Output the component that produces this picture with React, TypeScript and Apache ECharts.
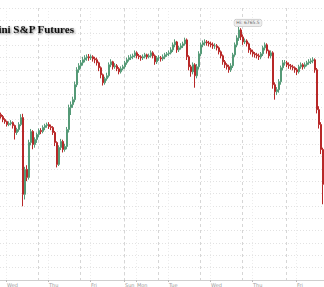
import React, { useEffect, useRef } from "react";
import * as echarts from "echarts";

const opens = [
  6655.5, 6653, 6649.25, 6646.75, 6643, 6644.25, 6645.5, 6641.75, 6633, 6636.75,
  6643, 6651.75, 6555.5, 6586.75, 6576.75, 6620.5, 6634.25, 6618, 6624.25, 6630.5,
  6635.5, 6634.25, 6639.25, 6641.75, 6643, 6640.5, 6639.25, 6633, 6620.5, 6593,
  6614.25, 6621.75, 6611.75, 6615.5, 6636.75, 6664.25, 6668, 6674.25, 6693, 6711.75,
  6716.75, 6720.5, 6724.25, 6726.75, 6728, 6726.75, 6728, 6725.5, 6724.25, 6720.5,
  6714.25, 6705.5, 6695.5, 6700.5, 6704.25, 6718, 6721.75, 6715.5, 6716.75, 6713,
  6709.25, 6713, 6715.5, 6720.5, 6724.25, 6726.75, 6728, 6729.25, 6733, 6729.25,
  6728, 6726.75, 6728, 6730.5, 6728, 6729.25, 6733, 6729.25, 6721.75, 6726.75,
  6726.75, 6725.5, 6728, 6730.5, 6731.75, 6733, 6736.75, 6743, 6746.75, 6736.75,
  6739.25, 6741.75, 6744.25, 6749.25, 6728, 6715.5, 6709.25, 6718, 6704.25, 6715.5,
  6731.75, 6743, 6745.5, 6746.75, 6745.5, 6744.25, 6743, 6741.75, 6741.75, 6739.25,
  6734.25, 6729.25, 6721.75, 6718, 6715.5, 6711.75, 6716.75, 6730.5, 6743, 6751.75,
  6761.75, 6753, 6746.75, 6748, 6744.25, 6736.75, 6734.25, 6731.75, 6730.5, 6729.25,
  6728, 6731.75, 6739.25, 6743, 6735.5, 6729.25, 6733, 6693, 6684.25, 6686.75,
  6696.75, 6714.25, 6720.5, 6720.5, 6718, 6716.75, 6715.5, 6714.25, 6711.75, 6709.25,
  6715.5, 6718, 6715.5, 6718, 6720.5, 6721.75, 6723, 6724.25, 6711.75, 6661.75,
  6643, 6611.75,
];

const closes = [
  6653, 6649.25, 6646.75, 6643, 6644.25, 6645.5, 6641.75, 6633, 6636.75, 6643,
  6651.75, 6555.5, 6586.75, 6576.75, 6620.5, 6634.25, 6618, 6624.25, 6630.5, 6635.5,
  6634.25, 6639.25, 6641.75, 6643, 6640.5, 6639.25, 6633, 6620.5, 6593, 6614.25,
  6621.75, 6611.75, 6615.5, 6636.75, 6664.25, 6668, 6674.25, 6693, 6711.75, 6716.75,
  6720.5, 6724.25, 6726.75, 6728, 6726.75, 6728, 6725.5, 6724.25, 6720.5, 6714.25,
  6705.5, 6695.5, 6700.5, 6704.25, 6718, 6721.75, 6715.5, 6716.75, 6713, 6709.25,
  6713, 6715.5, 6720.5, 6724.25, 6726.75, 6728, 6729.25, 6733, 6729.25, 6728,
  6726.75, 6728, 6730.5, 6728, 6729.25, 6733, 6729.25, 6721.75, 6726.75, 6726.75,
  6725.5, 6728, 6730.5, 6731.75, 6733, 6736.75, 6743, 6746.75, 6736.75, 6739.25,
  6741.75, 6744.25, 6749.25, 6728, 6715.5, 6709.25, 6718, 6704.25, 6715.5, 6731.75,
  6743, 6745.5, 6746.75, 6745.5, 6744.25, 6743, 6741.75, 6741.75, 6739.25, 6734.25,
  6729.25, 6721.75, 6718, 6715.5, 6711.75, 6716.75, 6730.5, 6743, 6751.75, 6761.75,
  6753, 6746.75, 6748, 6744.25, 6736.75, 6734.25, 6731.75, 6730.5, 6729.25, 6728,
  6731.75, 6739.25, 6743, 6735.5, 6729.25, 6733, 6693, 6684.25, 6686.75, 6696.75,
  6714.25, 6720.5, 6720.5, 6718, 6716.75, 6715.5, 6714.25, 6711.75, 6709.25, 6715.5,
  6718, 6715.5, 6718, 6720.5, 6721.75, 6723, 6724.25, 6711.75, 6661.75, 6643,
  6611.75, 6568,
];

const lows = [
  6650.5, 6646, 6644, 6640.5, 6641, 6642, 6638, 6624.25, 6630, 6634,
  6641, 6540.5, 6549, 6572, 6574, 6617, 6612, 6614, 6620, 6627,
  6631, 6632, 6636, 6639, 6637.5, 6636, 6630, 6616, 6589.25, 6591,
  6611, 6608, 6609, 6612, 6633, 6655, 6664, 6671, 6690, 6708,
  6713, 6717, 6721, 6723, 6723, 6724, 6722, 6720, 6717, 6710,
  6701, 6692, 6693, 6698, 6702, 6715, 6712, 6713, 6710, 6706,
  6707, 6711, 6713, 6718, 6722, 6724, 6725, 6727, 6726, 6725,
  6723, 6724, 6726, 6725, 6726, 6727, 6726, 6718, 6719, 6723,
  6722, 6723, 6725, 6728, 6729, 6731, 6734, 6740, 6733, 6734,
  6737, 6739, 6742, 6724, 6711, 6703, 6706, 6689.25, 6701, 6712,
  6729, 6740, 6742, 6742, 6741, 6740, 6738, 6738, 6736, 6731,
  6726, 6718, 6714, 6712, 6708, 6709, 6714, 6728, 6740, 6748,
  6749, 6743, 6744, 6741, 6733, 6731, 6728, 6727, 6726, 6724,
  6725, 6729, 6736, 6732, 6726, 6726, 6688, 6674.25, 6680, 6683,
  6693, 6711, 6717, 6715, 6713, 6712, 6711, 6708, 6705, 6707,
  6713, 6712, 6713, 6716, 6718, 6719, 6720, 6708, 6657, 6638,
  6606, 6543,
];

const highs = [
  6658, 6655, 6651, 6648, 6647, 6648.5, 6647, 6643, 6639, 6646,
  6656, 6656.5, 6590, 6592, 6624, 6637.5, 6636, 6627, 6633, 6638,
  6638.5, 6642, 6644, 6645.5, 6646, 6643, 6641, 6635, 6622, 6617,
  6625, 6624, 6619, 6640, 6668, 6672, 6678, 6697, 6715, 6720,
  6724, 6728, 6730, 6731, 6731.5, 6731, 6730, 6728, 6727, 6722,
  6716, 6707, 6703, 6708, 6721, 6725, 6723, 6720, 6719, 6715,
  6716, 6718, 6723, 6727, 6730, 6731, 6732, 6736, 6735, 6731.5,
  6730, 6731, 6733, 6732, 6732, 6736, 6735, 6731, 6729, 6730,
  6729, 6731, 6733, 6734, 6736, 6740, 6746, 6750, 6748, 6742,
  6745, 6747, 6752, 6751, 6730, 6718, 6721, 6720, 6719, 6735,
  6746, 6748.5, 6750, 6749, 6748, 6747, 6746, 6745, 6744, 6741,
  6736, 6731, 6724, 6720, 6718, 6720, 6733, 6746, 6755, 6765.5,
  6764, 6756, 6751, 6750, 6746, 6739, 6737, 6734, 6733, 6732,
  6734, 6742, 6746, 6745, 6737, 6736, 6735, 6696, 6690, 6700,
  6717, 6724, 6724, 6723, 6721, 6719, 6718, 6716, 6714, 6718,
  6721, 6720, 6721, 6723, 6725, 6726, 6727.5, 6726, 6714, 6666,
  6646, 6614,
];

const dayLabelIndex = [3, 24, 45, 62, 68, 84, 105, 126, 148];
const dayLabels = ["Wed", "Thu", "Fri", "Sun", "Mon", "Tue", "Wed", "Thu", "Fri"];
const sessionBreakIndex = [19, 40, 62, 79, 100, 121, 143];

const titleText = "Mini S&P Futures";

export default function App() {
  const ref = useRef<HTMLDivElement>(null);

  useEffect(() => {
    if (!ref.current) return;
    const chart = echarts.init(ref.current, null, { renderer: "svg" });
    const categories = closes.map((_, i) => String(i));
    const candles = closes.map((c, i) => [opens[i], c, lows[i], highs[i]]);
    const labelMap: Record<number, string> = {};
    dayLabelIndex.forEach((k, j) => (labelMap[k] = dayLabels[j]));
    const labelSet = new Set(dayLabelIndex);
    const breakSet = new Set(sessionBreakIndex);

    chart.setOption({
      animation: false,
      backgroundColor: "#ffffff",
      title: {
        text: titleText,
        left: -17,
        top: 18,
        textStyle: {
          fontFamily: "Liberation Serif",
          fontWeight: "bold",
          fontSize: 11,
          color: "#111",
          textShadowColor: "rgba(0,0,0,0.5)",
          textShadowBlur: 2,
          textShadowOffsetX: 1,
          textShadowOffsetY: 1,
        },
      },
      grid: { left: 0, right: 0, top: 8, bottom: 6, containLabel: false },
      xAxis: [
        {
          type: "category",
          data: categories,
          boundaryGap: true,
          axisLine: { show: true, lineStyle: { color: "#cfcfcf", width: 1 } },
          axisTick: {
            show: true,
            interval: (i: number) => labelSet.has(i),
            length: 2,
            lineStyle: { color: "#bbb" },
          },
          axisLabel: {
            show: true,
            interval: (i: number) => labelSet.has(i),
            formatter: (_v: string, i: number) => labelMap[i] || "",
            fontSize: 5,
            color: "#999",
            align: "left",
            margin: 2,
            fontFamily: "DejaVu Sans",
          },
          splitLine: {
            show: true,
            interval: (i: number) => labelSet.has(i),
            lineStyle: { color: "#ececec", type: [1, 2], width: 1 },
          },
        },
        {
          type: "category",
          data: categories,
          boundaryGap: true,
          position: "bottom",
          axisLine: { show: false },
          axisTick: { show: false },
          axisLabel: { show: false },
          splitLine: {
            show: true,
            interval: (i: number) => breakSet.has(i),
            lineStyle: { color: "#d6d6d6", type: [3, 3], width: 1 },
          },
        },
      ],
      yAxis: {
        type: "value",
        position: "right",
        min: 6448,
        max: 6789.25,
        interval: 15.5,
        axisLine: { show: false },
        axisTick: { show: false },
        axisLabel: { show: false },
        splitLine: { show: true, lineStyle: { color: "#e2e2e2", type: [1, 2], width: 1 } },
      },
      series: [
        {
          type: "candlestick",
          xAxisIndex: 0,
          data: candles,
          barWidth: "75%",
          itemStyle: {
            color: "#7fb99b",
            color0: "#c62f2f",
            borderColor: "#559a77",
            borderColor0: "#b82828",
            borderWidth: 1,
          },
          markPoint: {
            symbol: "circle",
            symbolSize: 1,
            itemStyle: { color: "rgba(0,0,0,0)" },
            data: [{ type: "max", valueDim: "highest" }],
            label: {
              show: true,
              position: "top",
              distance: 0,
              offset: [9, 0],
              formatter: (p: any) => "Hi: " + p.value,
              fontSize: 4.5,
              color: "#666",
              backgroundColor: "#eeeeee",
              borderColor: "#b5b5b5",
              borderWidth: 0.5,
              borderRadius: 2,
              padding: [1, 2],
              fontFamily: "DejaVu Sans",
            },
          },
        },
      ],
    });
    return () => chart.dispose();
  }, []);

  return (
    <div
      ref={ref}
      style={{ position: "fixed", left: 0, top: 0, width: 324, height: 287 }}
    />
  );
}
